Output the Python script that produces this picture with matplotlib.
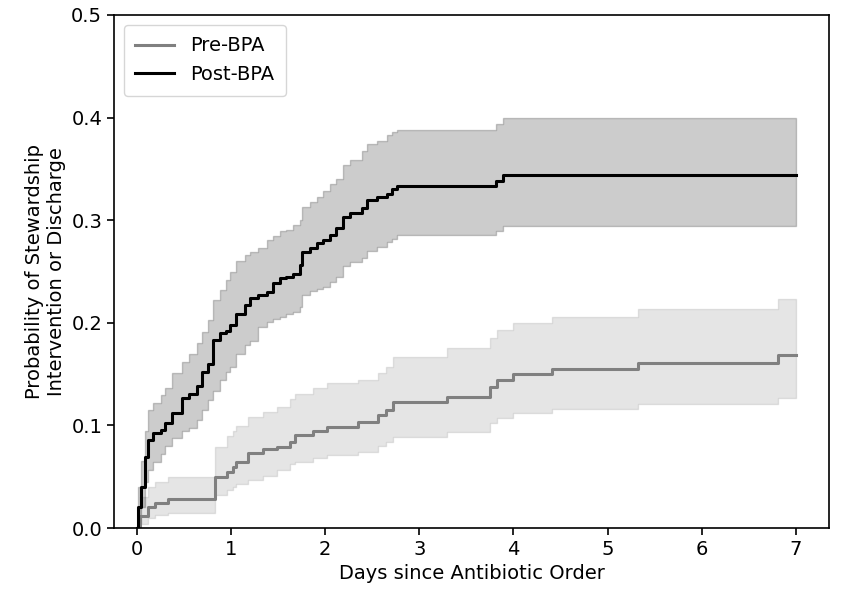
import matplotlib
matplotlib.use("Agg")
import matplotlib.pyplot as plt
import numpy as np

# Pre-BPA: step times (days), cumulative probability, lower / upper CI
pre_t = [0, 0.04, 0.12, 0.19, 0.33, 0.83, 0.96, 1.02, 1.06, 1.18, 1.34, 1.49, 1.63, 1.68,
         1.87, 2.02, 2.35, 2.56, 2.65, 2.72, 3.30, 3.75, 3.83, 4.00, 4.41, 5.32, 6.81, 7.0]
pre_s = [0, 0.012, 0.020, 0.024, 0.028, 0.050, 0.055, 0.059, 0.064, 0.073, 0.077, 0.079, 0.084, 0.091,
         0.095, 0.098, 0.103, 0.110, 0.115, 0.123, 0.128, 0.137, 0.144, 0.150, 0.155, 0.161, 0.169, 0.169]
pre_lo = [0, 0.004, 0.010, 0.013, 0.015, 0.032, 0.037, 0.040, 0.043, 0.047, 0.051, 0.057, 0.062, 0.064,
          0.068, 0.071, 0.074, 0.080, 0.084, 0.089, 0.094, 0.102, 0.107, 0.112, 0.116, 0.121, 0.127, 0.127]
pre_hi = [0, 0.030, 0.040, 0.045, 0.050, 0.079, 0.090, 0.095, 0.099, 0.108, 0.113, 0.118, 0.126, 0.131,
          0.136, 0.141, 0.144, 0.151, 0.157, 0.167, 0.175, 0.185, 0.193, 0.200, 0.206, 0.213, 0.223, 0.223]

# Post-BPA
post_t = [0, 0.02, 0.05, 0.085, 0.12, 0.17, 0.26, 0.30, 0.38, 0.48, 0.56, 0.64, 0.69, 0.76,
          0.81, 0.88, 0.95, 0.99, 1.06, 1.15, 1.20, 1.29, 1.38, 1.45, 1.52, 1.59, 1.66, 1.73,
          1.76, 1.84, 1.91, 1.98, 2.05, 2.12, 2.19, 2.26, 2.39, 2.45, 2.55, 2.66, 2.71, 2.76,
          3.82, 3.89, 7.0]
post_s = [0, 0.020, 0.040, 0.069, 0.086, 0.093, 0.096, 0.102, 0.112, 0.127, 0.131, 0.138, 0.152, 0.160,
          0.183, 0.190, 0.192, 0.198, 0.209, 0.217, 0.224, 0.227, 0.230, 0.239, 0.244, 0.245, 0.248, 0.256,
          0.269, 0.273, 0.278, 0.281, 0.286, 0.292, 0.303, 0.307, 0.312, 0.320, 0.323, 0.326, 0.330, 0.333,
          0.338, 0.344, 0.344]
post_lo = [0, 0.005, 0.020, 0.045, 0.057, 0.064, 0.072, 0.080, 0.088, 0.095, 0.097, 0.105, 0.115, 0.125,
           0.134, 0.144, 0.152, 0.157, 0.170, 0.178, 0.182, 0.196, 0.201, 0.204, 0.206, 0.209, 0.211, 0.215,
           0.227, 0.231, 0.233, 0.235, 0.240, 0.245, 0.255, 0.259, 0.263, 0.270, 0.274, 0.279, 0.282, 0.286,
           0.289, 0.294, 0.294]
post_hi = [0, 0.040, 0.065, 0.095, 0.115, 0.122, 0.130, 0.136, 0.151, 0.162, 0.170, 0.180, 0.191, 0.203,
           0.222, 0.232, 0.242, 0.250, 0.260, 0.266, 0.269, 0.273, 0.281, 0.285, 0.289, 0.290, 0.295, 0.300,
           0.313, 0.318, 0.323, 0.328, 0.335, 0.340, 0.354, 0.359, 0.367, 0.374, 0.377, 0.383, 0.386, 0.388,
           0.394, 0.400, 0.400]

plt.rcParams['font.size'] = 14
plt.rcParams['axes.linewidth'] = 1.2
plt.rcParams['xtick.major.width'] = 1.2
plt.rcParams['ytick.major.width'] = 1.2
plt.rcParams['xtick.major.size'] = 5
plt.rcParams['ytick.major.size'] = 5

fig = plt.figure(figsize=(8.42, 5.93), dpi=100)
ax = fig.add_axes([114/842, 1-528/593, (829-114)/842, (528-15)/593])

ax.step(pre_t, pre_s, where='post', color='gray', lw=2.2, label='Pre-BPA')
ax.fill_between(pre_t, pre_lo, pre_hi, step='post', color='gray', alpha=0.2)
ax.step(post_t, post_s, where='post', color='black', lw=2.2, label='Post-BPA')
ax.fill_between(post_t, post_lo, post_hi, step='post', color='black', alpha=0.2)

ax.set_ylim(0, 0.5)
ax.set_xlim(-0.24, 7.35)
ax.set_xticks(range(8))
ax.set_yticks([0, 0.1, 0.2, 0.3, 0.4, 0.5])
ax.set_xlabel('Days since Antibiotic Order')
ax.set_ylabel('Probability of Stewardship\nIntervention or Discharge')
ax.legend(loc='upper left', borderpad=0.6)

fig.savefig('out.png', dpi=100)
